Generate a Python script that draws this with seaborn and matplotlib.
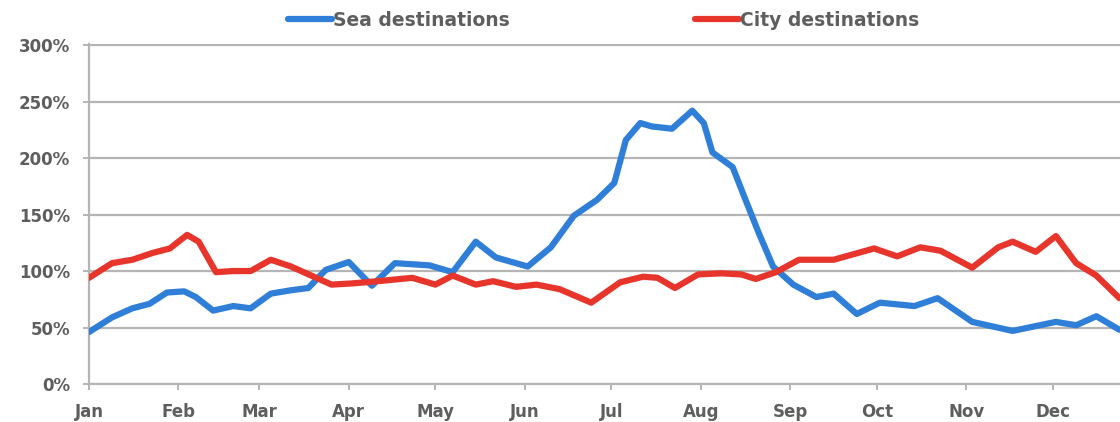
import matplotlib
matplotlib.use("Agg")
import matplotlib.pyplot as plt
import seaborn as sns
import pandas as pd

# ---- data (day of year, percent) ----
sea_days = [0, 8, 15, 21, 27, 33, 37, 43, 50, 56,
            63, 70, 76, 82, 90, 98, 106, 118, 126, 134,
            141, 152, 160, 168, 176, 182, 186, 191, 195, 202,
            209, 213, 216, 223, 227, 232, 237, 244, 252, 258,
            266, 274, 286, 294, 306, 320, 335, 342, 349, 357]
sea_vals = [46, 59, 67, 71, 81, 82, 77, 65, 69, 67,
            80, 83, 85, 101, 108, 87, 107, 105, 99, 126,
            112, 104, 121, 149, 163, 178, 216, 231, 228, 226,
            242, 231, 205, 192, 166, 134, 104, 88, 77, 80,
            62, 72, 69, 76, 55, 47, 55, 52, 60, 48]

city_days = [0, 8, 15, 22, 28, 34, 38, 44, 50, 56,
             63, 70, 77, 84, 91, 100, 112, 120, 126, 134,
             140, 148, 155, 163, 174, 184, 192, 197, 203, 211,
             219, 226, 231, 238, 246, 258, 272, 280, 288, 295,
             306, 315, 320, 328, 335, 342, 349, 357]
city_vals = [94, 107, 110, 116, 120, 132, 126, 99, 100, 100,
             110, 104, 96, 88, 89, 91, 94, 88, 96, 88,
             91, 86, 88, 84, 72, 90, 95, 94, 85, 97,
             98, 97, 93, 99, 110, 110, 120, 113, 121, 118,
             103, 121, 126, 117, 131, 107, 96, 76]

month_labels = ["Jan", "Feb", "Mar", "Apr", "May", "Jun",
                "Jul", "Aug", "Sep", "Oct", "Nov", "Dec"]
month_starts = [0, 31, 59, 90, 120, 151, 181, 212, 243, 273, 304, 334]
y_ticks = [0, 50, 100, 150, 200, 250, 300]
series_names = ["Sea destinations", "City destinations"]

sea_color = "#2f7fd8"
city_color = "#e8352b"
text_color = "#5e5e5e"
grid_color = "#b5b5b5"

sns.set_style("white")
plt.rcParams['font.family'] = ['DejaVu Sans']

fig = plt.figure(figsize=(11.2, 4.22), dpi=100)
ax = fig.add_axes([89 / 1120, 1 - 384 / 422, 1 - 89 / 1120, (384 - 44) / 422])

sea_df = pd.DataFrame({"day": sea_days, "value": sea_vals})
city_df = pd.DataFrame({"day": city_days, "value": city_vals})

sns.lineplot(data=sea_df, x="day", y="value", ax=ax, color=sea_color,
             linewidth=4.5, label=series_names[0], solid_joinstyle="round",
             solid_capstyle="round", zorder=3)
sns.lineplot(data=city_df, x="day", y="value", ax=ax, color=city_color,
             linewidth=4.5, label=series_names[1], solid_joinstyle="round",
             solid_capstyle="round", zorder=4)

ax.set_xlim(0, 357.2)
ax.set_ylim(0, 301)
ax.set_xlabel("")
ax.set_ylabel("")

ax.set_yticks(y_ticks)
ax.set_yticklabels([f"{v}%" for v in y_ticks])
ax.set_xticks(month_starts)
ax.set_xticklabels(month_labels)

ax.yaxis.grid(True, color=grid_color, linewidth=1.6)
ax.xaxis.grid(False)
ax.set_axisbelow(True)

for s in ["top", "right"]:
    ax.spines[s].set_visible(False)
for s in ["left", "bottom"]:
    ax.spines[s].set_color(grid_color)
    ax.spines[s].set_linewidth(1.6)

ax.tick_params(axis="both", which="major", length=4.5, width=1.4,
               color=grid_color, direction="out", pad=9,
               labelsize=12, labelcolor=text_color)
ax.tick_params(axis="y", left=True)
ax.tick_params(axis="x", bottom=True)
for lbl in ax.get_xticklabels() + ax.get_yticklabels():
    lbl.set_fontweight("bold")

handles, labels = ax.get_legend_handles_labels()
ax.get_legend().remove()
leg = fig.legend(handles, labels, loc="center", bbox_to_anchor=(0.539, 1 - 20 / 422),
                 ncol=2, frameon=False, handlelength=2.35, handletextpad=0.05,
                 columnspacing=9.9, borderpad=0,
                 prop={"size": 13.5, "weight": "bold"})
for t in leg.get_texts():
    t.set_color(text_color)

fig.savefig("out.png", dpi=100)
